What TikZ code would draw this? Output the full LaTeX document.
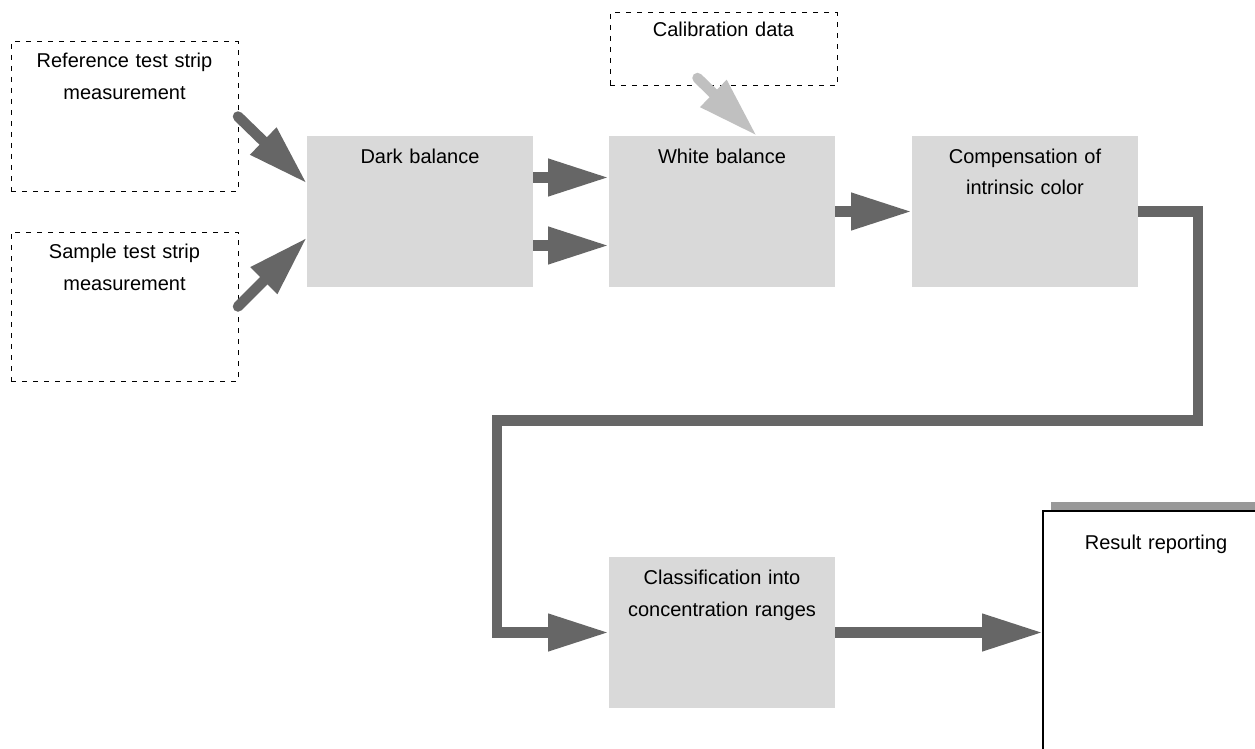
\documentclass[tikz,border=0pt]{standalone}
\usepackage{fontspec}
\setmainfont{Liberation Sans}
\usetikzlibrary{arrows.meta,shadows}
\definecolor{boxgray}{HTML}{D9D9D9}
\definecolor{flowgray}{HTML}{666666}
\definecolor{calgray}{HTML}{C0C0C0}
\definecolor{shadegray}{HTML}{999999}

\begin{document}
\begin{tikzpicture}[x=1pt, y=-1pt,
  every node/.style={font=\fontsize{20}{32}\selectfont, align=center,
    anchor=north west, inner sep=0pt, outer sep=0pt},
  inbox/.style={draw, line width=1pt, dash pattern=on 5pt off 6pt,
    text width=227pt, text height=26pt, text depth=123pt},
  stepbox/.style={fill=boxgray, text width=226pt, text height=27pt,
    text depth=124pt},
  resultbox/.style={draw, line width=2pt, fill=white, text width=226pt,
    text height=38pt, text depth=300pt,
    drop shadow={shadow xshift=8pt, shadow yshift=9pt, fill=shadegray,
      opacity=1}},
  flow/.style={-{Triangle[length=61pt, width=35pt]}, line width=10.5pt,
    draw=flowgray}]

  \clip (0, 0) rectangle (1255, 749);

  \node[inbox] (refstrip) at (11, 42) {Reference test strip\\measurement};

  \node[inbox] (samplestrip) at (11, 232) {Sample test strip\\measurement};

  \node[inbox, text height=24pt, text depth=49pt]
    (calib) at (610, 13) {Calibration data};

  \node[stepbox] (dark) at (307, 136) {Dark balance};

  \node[stepbox] (white) at (609, 136) {White balance};

  \node[stepbox] (comp) at (912, 136) {Compensation of\\intrinsic color};

  \node[stepbox] (classif) at (609, 557)
    {Classification into\\concentration ranges};

  \node[resultbox] (result) at (1043, 511) {Result reporting};

  \draw[flow, line cap=round]
    (refstrip.east) -- ([yshift=28pt]dark.west);
  \draw[flow, line cap=round]
    (samplestrip.east) -- ([yshift=-26pt]dark.west);

  \draw[flow] ([yshift=34pt]dark.east) -- ([yshift=34pt]white.west);
  \draw[flow] ([yshift=-34pt]dark.east) -- ([yshift=-34pt]white.west);

  \draw[flow, draw=calgray, line cap=round]
    ([shift={(-26pt,8pt)}]calib.south) -- ([xshift=35pt]white.north);

  \draw[flow] (white.east) -- (comp.west);

  \draw[flow]
    (comp.east) -- ++(60, 0) -- ++(0, 209)
    -| ([xshift=-112pt]classif.west) -- (classif.west);

  \draw[flow] (classif.east) -- (classif.east -| result.west);
\end{tikzpicture}
\end{document}
